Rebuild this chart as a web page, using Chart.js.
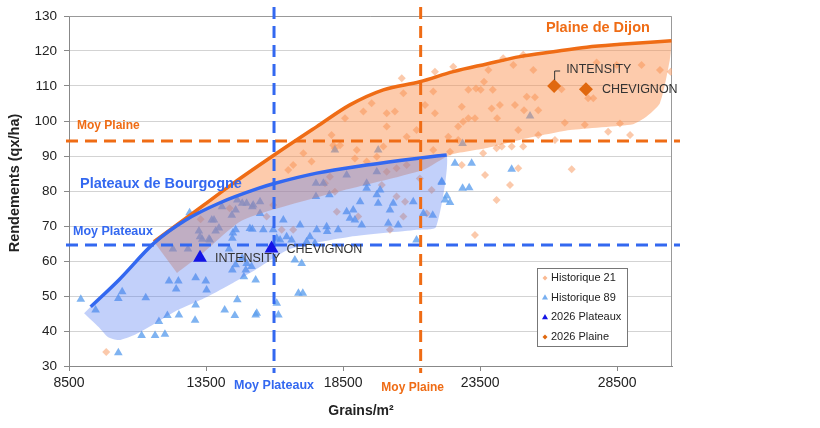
<!DOCTYPE html>
<html lang="fr">
<head>
<meta charset="UTF-8">
<title>Rendements / Grains par m²</title>
<script src="https://cdn.jsdelivr.net/npm/chart.js"></script>
<style>
  html, body { margin: 0; padding: 0; background: #fff; }
  #wrap { width: 820px; height: 428px; }
</style>
</head>
<body>
<div id="wrap"><canvas id="yieldChart" width="820" height="428"></canvas></div>
<script>
// axes
const xTicks = [8500, 13500, 18500, 23500, 28500];
const xRange = [8500, 30500];
const yRange = [30, 130];

// moyennes [grains/m², qx/ha]
const moyPlateaux = [15980, 64.6];
const moyPlaine = [21330, 94.3];

// courbes enveloppes
const courbePlateaux = [[9290, 46.9], [10320, 54.6], [11600, 65.1], [12760, 71.7], [13970, 76.5], [15430, 80.8],
  [16020, 82.2], [17540, 85.1], [19360, 87.4], [21180, 89.3], [22280, 90.3]];
const courbePlaine = [[11600, 65.5], [13350, 75.6], [14490, 82.2], [16080, 90.8], [17540, 98.4], [18750, 104.6],
  [19970, 108.9], [21300, 111.2], [22520, 114.1], [23740, 116.3], [24950, 118.4], [26170, 119.8],
  [27390, 121.1], [28600, 121.9], [30480, 122.9]];

// bord bas des zones colorées
const zonePlateauxBas = [[9050, 45.1], [9590, 41.1], [9920, 38.3], [10320, 37.4], [10940, 39.1], [11670, 42.3],
  [12400, 45.7], [13530, 49.7], [14480, 53.7], [15290, 57.4], [16560, 63.4], [18750, 66.9], [21200, 68.9], [21890, 69.7]];
const zonePlaineBas = [[30420, 117.4], [30060, 105.1], [29510, 100.9], [29080, 99.1], [26780, 97.4], [24950, 94.6],
  [23750, 92.3], [22400, 90.3], [21410, 86], [18130, 79.4], [14850, 71.7], [13390, 62.3], [12440, 56.6]];

// points historiques
const historique21 = [[9860, 34], [14360, 75.1], [13300, 71.9], [17050, 90.8], [16500, 86], [17350, 88.4], [18020, 84.1],
  [17840, 82.2], [18200, 79.8], [18390, 93.1], [18140, 93.1], [18930, 89.3], [19360, 88.4], [20090, 85.5], [20450, 86.5],
  [19910, 81.7], [20450, 78.4], [20760, 76.9], [20700, 72.7], [21550, 73.6], [21730, 80.3], [21300, 83.6], [20210, 68.9],
  [19050, 72.7], [18270, 74.1], [16680, 68.9], [15710, 72.7], [15950, 76],
  [21790, 108.4], [21850, 114.1], [22520, 115.5], [23800, 114.6], [24340, 117.9], [24710, 116], [25070, 118.9],
  [25440, 114.6], [23640, 111.2], [23070, 108.9], [23350, 109.3], [23520, 108.9], [23960, 108.9], [25200, 106.9],
  [25500, 106.8], [26470, 109.1], [27440, 106.5], [27630, 106.5], [27750, 116.7], [28480, 116], [29390, 116],
  [30060, 114.6], [30450, 114.1], [22830, 104.1], [23920, 103.6], [24220, 104.6], [24770, 104.6], [25100, 103.1],
  [25620, 103.1], [21850, 102.2], [21490, 104.6], [23070, 100.8], [23310, 100.8], [22880, 99.8], [22700, 98.4],
  [24120, 100.8], [24890, 97.4], [26590, 99.5], [27320, 98.9], [28170, 96.9], [28600, 99.3], [28970, 96], [25620, 96],
  [26230, 94.6], [22340, 95.5], [22700, 94.6], [24290, 92.7], [24100, 92.2], [24650, 92.7], [25070, 92.7], [23610, 90.8],
  [22830, 87.4], [23680, 84.6], [24890, 86.5], [24590, 81.7], [26840, 86.2], [24100, 77.4], [23310, 67.4],
  [20640, 112.2], [20700, 107.9], [18570, 100.8], [19240, 102.7], [19540, 105.1], [20090, 102.2], [20390, 102.7],
  [20090, 98.4], [18080, 96], [18200, 92.2], [20820, 95.5], [21180, 97.4], [19730, 89.8], [19970, 92.7], [19000, 91.7],
  [21790, 91.7], [22400, 91.2], [20820, 87.4], [16680, 87.4], [16260, 68.9]];
const historique89 = [[8930, 49.1], [9470, 46], [10300, 33.8], [10300, 49.3], [10440, 51.2], [11300, 49.5], [11150, 38.7],
  [11640, 38.7], [12000, 39.1], [11780, 42.7], [12090, 44.4], [12510, 44.6], [13100, 43.1], [13120, 47.4], [12150, 54.3],
  [12490, 54.3], [12410, 52], [13120, 55.2], [13490, 54.3], [13520, 51.7], [14180, 46], [14550, 44.4], [14640, 48.9],
  [15310, 44.6], [12900, 73.8], [13360, 66.2], [13610, 66.3], [13850, 68.6], [13790, 71.7], [13970, 69.4], [13240, 68.6],
  [12840, 63.4], [12290, 63.4], [14080, 75.5], [14580, 74.6], [14820, 76.5], [15190, 75.5], [14640, 77.4], [15190, 69.1],
  [14580, 68.9], [14460, 66.5], [14340, 63.4], [14820, 60.8], [14580, 58.9], [14460, 57.4], [14950, 57.4], [15160, 58.4],
  [14880, 55.5], [15310, 54.6], [17510, 78.4], [18000, 78.9], [17540, 68.9], [17900, 69.8], [17920, 68.4], [18320, 68.9],
  [18630, 74.1], [18870, 74.6], [18750, 72.2], [18930, 71.7], [19120, 76.9], [19360, 82.2], [19180, 70.3], [19730, 78.9],
  [19850, 80.3], [19780, 76.5], [20210, 74.6], [20330, 76.5], [20150, 70.8], [20510, 70.3], [21060, 76.9], [21430, 73.6],
  [21770, 73.1], [22100, 82.7], [22220, 77.4], [21180, 66], [16870, 50.8], [17030, 50.8], [16740, 60.3], [16990, 59.3],
  [17170, 65.5], [17470, 65.1], [17290, 66.9], [16320, 71.7], [16440, 66.9], [16620, 66], [16930, 70.3], [15590, 68.9],
  [15950, 68.9], [16200, 66], [16080, 47.9], [16140, 44.6], [15350, 45.1], [15470, 73.6], [14980, 59.3], [15470, 76.9],
  [18200, 91.7], [19780, 91.7], [17510, 82.2], [22580, 87.9], [23190, 87.9], [24650, 86.2], [22860, 80.8], [23100, 80.9],
  [22280, 78.6], [22400, 76.7], [22100, 82.4], [25320, 101.4], [22860, 93.6], [15220, 76], [13280, 66.9], [13640, 66],
  [13710, 71.7], [14440, 73.1], [14980, 76.5], [15100, 69.3], [14480, 68], [16080, 66.5], [18630, 84.6], [17780, 82.2],
  [19730, 85.5], [19360, 80.8]];

// 2026
const varietes = ['INTENSITY', 'CHEVIGNON'];
const plateaux2026 = [[13280, 60.9], [15890, 63.6]];
const plaine2026 = [[26200, 110], [27360, 109.1]];

const FONT = '"Liberation Sans", Arial, sans-serif';
const ORANGE = '#EF6C15';
const BLUE = '#3368F0';

const toXY = arr => arr.map(([x, y]) => ({ x, y }));
const shapePlateaux = zonePlateauxBas.concat(courbePlateaux.slice().reverse());
const shapePlaine = courbePlaine.concat(zonePlaineBas);

function marker(ctx, style, x, y, r, color) {
    ctx.fillStyle = color;
    ctx.beginPath();
    if (style === 'triangle') {
        ctx.moveTo(x, y - r);
        ctx.lineTo(x + r * 0.866, y + r * 0.5);
        ctx.lineTo(x - r * 0.866, y + r * 0.5);
    } else {
        ctx.moveTo(x - r, y);
        ctx.lineTo(x, y - r);
        ctx.lineTo(x + r, y);
        ctx.lineTo(x, y + r);
    }
    ctx.closePath();
    ctx.fill();
}

function text(ctx, str, x, y, align, color, font) {
    ctx.font = font;
    ctx.fillStyle = color;
    ctx.textAlign = align;
    ctx.textBaseline = 'middle';
    ctx.fillText(str, x, y);
}

const decor = {
    id: 'decor',
    beforeDatasetsDraw(chart) {
        const { ctx, chartArea: a } = chart;
        ctx.save();
        ctx.strokeStyle = '#999';
        ctx.lineWidth = 1;
        ctx.beginPath();
        ctx.moveTo(a.left, a.top + 0.5);
        ctx.lineTo(a.right - 0.5, a.top + 0.5);
        ctx.lineTo(a.right - 0.5, a.bottom);
        ctx.stroke();
        ctx.restore();
    },
    beforeDatasetDraw(chart, args) {
        if (args.index !== 6) return;
        const { ctx, chartArea: a, scales: { x, y } } = chart;
        ctx.save();
        ctx.lineWidth = 3;
        ctx.setLineDash([12, 7]);
        [[moyPlaine[1], ORANGE], [moyPlateaux[1], BLUE]].forEach(([v, c]) => {
            const py = y.getPixelForValue(v);
            ctx.strokeStyle = c;
            ctx.beginPath();
            ctx.moveTo(a.left - 3, py);
            ctx.lineTo(a.right + 8, py);
            ctx.stroke();
        });
        [[moyPlateaux[0], BLUE], [moyPlaine[0], ORANGE]].forEach(([v, c]) => {
            const px = x.getPixelForValue(v);
            ctx.strokeStyle = c;
            ctx.beginPath();
            ctx.moveTo(px, a.top - 9);
            ctx.lineTo(px, a.bottom + 7);
            ctx.stroke();
        });
        ctx.restore();
    },
    afterDraw(chart) {
        const { ctx, chartArea: a, scales: { x, y } } = chart;
        ctx.save();

        // titres des zones
        text(ctx, 'Plaine de Dijon', x.getPixelForValue(25900), y.getPixelForValue(126.6), 'left', ORANGE, 'bold 14.5px ' + FONT);
        text(ctx, 'Plateaux de Bourgogne', x.getPixelForValue(8900), y.getPixelForValue(82), 'left', BLUE, 'bold 14.5px ' + FONT);
        text(ctx, 'Moy Plaine', a.left + 8, y.getPixelForValue(moyPlaine[1]) - 15, 'left', ORANGE, 'bold 12px ' + FONT);
        text(ctx, 'Moy Plateaux', a.left + 4, y.getPixelForValue(moyPlateaux[1]) - 13, 'left', BLUE, 'bold 12.5px ' + FONT);
        text(ctx, 'Moy Plateaux', x.getPixelForValue(moyPlateaux[0]), a.bottom + 20, 'center', BLUE, 'bold 12.5px ' + FONT);
        text(ctx, 'Moy Plaine', x.getPixelForValue(moyPlaine[0]) - 8, a.bottom + 22, 'center', ORANGE, 'bold 12px ' + FONT);

        // étiquettes 2026
        const pl = chart.getDatasetMeta(6).data;
        const pn = chart.getDatasetMeta(7).data;
        const lab = 'normal 12.5px ' + FONT;
        text(ctx, varietes[0], pl[0].x + 15, pl[0].y + 1, 'left', '#333', lab);
        text(ctx, varietes[1], pl[1].x + 15, pl[1].y + 1, 'left', '#333', lab);
        text(ctx, varietes[0], pn[0].x + 12, pn[0].y - 16, 'left', '#333', lab);
        text(ctx, varietes[1], pn[1].x + 16, pn[1].y, 'left', '#333', lab);
        ctx.strokeStyle = '#333';
        ctx.lineWidth = 1;
        ctx.beginPath();
        ctx.moveTo(pn[0].x + 0.5, pn[0].y - 6);
        ctx.lineTo(pn[0].x + 0.5, pn[0].y - 15);
        ctx.lineTo(pn[0].x + 6, pn[0].y - 15);
        ctx.stroke();

        // titres des axes
        text(ctx, 'Grains/m²', 361, 411, 'center', '#222', 'bold 14px ' + FONT);
        ctx.save();
        ctx.translate(15, 183);
        ctx.rotate(-Math.PI / 2);
        text(ctx, 'Rendements (qx/ha)', 0, 0, 'center', '#222', 'bold 14.5px ' + FONT);
        ctx.restore();

        // légende
        const lx = a.right - 135, ly = a.bottom - 98;
        ctx.fillStyle = '#fff';
        ctx.fillRect(lx, ly, 90, 78);
        ctx.strokeStyle = '#777';
        ctx.strokeRect(lx + 0.5, ly + 0.5, 90, 78);
        chart.data.datasets.filter(d => d.inLegend).forEach((d, i) => {
            const cy = ly + 10 + i * 19.7;
            marker(ctx, d.pointStyle, lx + 8, cy, d.pointStyle === 'triangle' ? 3.5 : 2.5, d.legendColor);
            text(ctx, d.label, lx + 14, cy, 'left', '#222', 'normal 11px ' + FONT);
        });
        ctx.restore();
    }
};

new Chart(document.getElementById('yieldChart'), {
    type: 'scatter',
    data: {
        datasets: [
            {
                label: 'Historique 21', inLegend: true, legendColor: 'rgb(250,185,145)',
                data: toXY(historique21), pointStyle: 'rectRot', pointRadius: 4,
                backgroundColor: 'rgba(248,168,120,0.62)', borderWidth: 0, order: 6
            },
            {
                label: 'Historique 89', inLegend: true, legendColor: 'rgb(120,175,240)',
                data: toXY(historique89), pointStyle: 'triangle', pointRadius: 5,
                backgroundColor: 'rgba(95,160,238,0.8)', borderWidth: 0, order: 5
            },
            {
                type: 'line', label: 'zone plaine', data: toXY(shapePlaine), fill: 'shape',
                backgroundColor: 'rgba(250,140,70,0.45)', borderWidth: 0, pointRadius: 0, tension: 0.2, order: 4
            },
            {
                type: 'line', label: 'zone plateaux', data: toXY(shapePlateaux), fill: 'shape',
                backgroundColor: 'rgba(80,120,240,0.35)', borderWidth: 0, pointRadius: 0, tension: 0.2, order: 3
            },
            {
                type: 'line', label: 'Plateaux', data: toXY(courbePlateaux), borderColor: BLUE, borderWidth: 3.5,
                pointRadius: 0, fill: false, cubicInterpolationMode: 'monotone', order: 2
            },
            {
                type: 'line', label: 'Plaine', data: toXY(courbePlaine), borderColor: ORANGE, borderWidth: 3.5,
                pointRadius: 0, fill: false, cubicInterpolationMode: 'monotone', order: 2
            },
            {
                label: '2026 Plateaux', inLegend: true, legendColor: '#1414E6',
                data: toXY(plateaux2026), pointStyle: 'triangle', pointRadius: 8,
                backgroundColor: '#1414E6', borderWidth: 0, order: 1
            },
            {
                label: '2026 Plaine', inLegend: true, legendColor: '#E0680F',
                data: toXY(plaine2026), pointStyle: 'rectRot', pointRadius: 7,
                backgroundColor: '#E0680F', borderWidth: 0, order: 0
            }
        ]
    },
    options: {
        responsive: false,
        animation: false,
        devicePixelRatio: 1,
        layout: { padding: { left: 0, top: 16, right: 148, bottom: 0 } },
        plugins: { legend: { display: false }, tooltip: { enabled: false } },
        scales: {
            x: {
                type: 'linear', min: xRange[0], max: xRange[1],
                afterBuildTicks: s => { s.ticks = xTicks.map(v => ({ value: v })); },
                afterFit: s => { s.height = 62; },
                grid: { drawOnChartArea: false, tickLength: 5, tickColor: '#888' },
                border: { color: '#888' },
                ticks: { font: { family: FONT, size: 14 }, color: '#222', padding: 4, maxRotation: 0,
                         callback: v => String(v) }
            },
            y: {
                min: yRange[0], max: yRange[1],
                afterFit: s => { s.width = 69; },
                grid: { color: '#d3d3d3', tickLength: 5, tickColor: '#888' },
                border: { color: '#888' },
                ticks: { stepSize: 10, font: { family: FONT, size: 13.5 }, color: '#222', padding: 7,
                         callback: v => String(v) }
            }
        }
    },
    plugins: [decor]
});
</script>
</body>
</html>
